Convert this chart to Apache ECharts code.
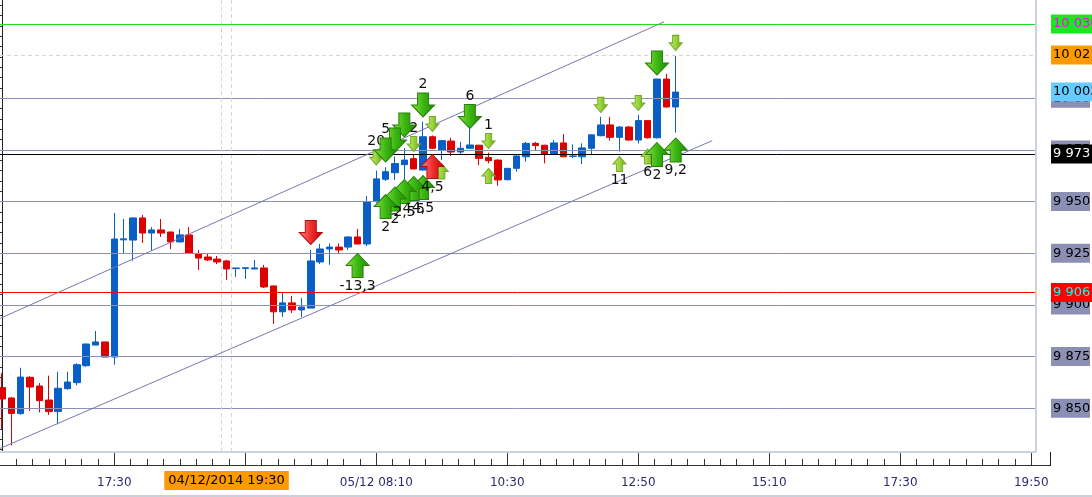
<!DOCTYPE html>
<html>
<head>
<meta charset="utf-8">
<style>
html,body{margin:0;padding:0;background:#fff;}
#chart{width:1092px;height:497px;}
</style>
<script src="https://cdn.jsdelivr.net/npm/echarts@6/dist/echarts.min.js"></script>
</head>
<body>
<div id="chart"></div>
<script>
// 10-minute bars, index 0 = first bar on screen
var openV  = [9860, 9855, 9847.4, 9865, 9860.8, 9854, 9848.4, 9859.5, 9862.4, 9870.6,
              9880.6, 9882.1, 9874.8, 9931.5, 9931.4, 9942.1, 9934.8, 9936.3, 9935.3, 9930.5,
              9933.9, 9924.7, 9923.2, 9922.2, 9921.3, 9917.6, 9917.7, 9917.4, 9917.9, 9909.2,
              9896.7, 9901, 9897.6, 9898.5, 9920.8, 9927.1, 9928, 9928, 9932.9, 9929.5,
              9950, 9960.8, 9964, 9967.9, 9970.8, 9965.3, 9981.4, 9975, 9979.3, 9974,
              9975.8, 9977.3, 9971.4, 9970.1, 9960.6, 9966.1, 9971.7, 9978.2, 9977.3, 9973,
              9978.4, 9971.9, 9971.7, 9975.8, 9981.9, 9987.1, 9981.1, 9986.1, 9979.8, 9989.2,
              9980.9, 10009.3, 9995.8];
var closeV = [9854.5, 9847.5, 9865.1, 9860.3, 9853.7, 9848.4, 9859.7, 9862.7, 9871.1, 9881.1,
              9882.1, 9874.8, 9931.9, 9932, 9942.1, 9934.8, 9936.3, 9934.8, 9930.5, 9933.9,
              9925.1, 9922.7, 9921.8, 9920.8, 9917.4, 9917.9, 9918, 9917.9, 9908.7, 9896.7,
              9901, 9897.6, 9899, 9921.3, 9927.1, 9928, 9926.6, 9932.9, 9929.5, 9950,
              9961, 9964.5, 9968.4, 9970.1, 9965.8, 9981.4, 9975.8, 9979.5, 9974, 9975.8,
              9977.4, 9970.9, 9969.8, 9960.5, 9966.1, 9972.1, 9978.2, 9977.1, 9973, 9978.4,
              9971.7, 9972.1, 9976, 9982.3, 9987.1, 9981.1, 9986.1, 9979.8, 9989.2, 9980.9,
              10009.3, 9995.8, 10003];
var lowV   = [9840, 9832, 9847, 9848.7, 9848, 9846.8, 9842.3, 9859, 9861.1, 9870.1,
              9880.5, 9874.8, 9871.1, 9925.1, 9921.4, 9930, 9926.1, 9932.9, 9927.1, 9930.3,
              9925, 9916.9, 9921.3, 9919.8, 9912.1, 9913.6, 9912.6, 9917.4, 9908.2, 9890.8,
              9894.2, 9896.1, 9894.2, 9898.5, 9919.8, 9919.4, 9925, 9926.6, 9929.5, 9928.5,
              9949.5, 9960, 9960.5, 9960.5, 9965.8, 9965, 9975.5, 9970.1, 9972.1, 9972.6,
              9975.6, 9967.7, 9968.5, 9957.7, 9960.3, 9964.5, 9969.3, 9975, 9968.5, 9972.8,
              9971.5, 9971, 9968.2, 9972.6, 9981.6, 9979.5, 9974.2, 9979.5, 9978.2, 9980.5,
              9980.5, 9995.5, 9983.4];
var highV  = [9867, 9855.5, 9869.6, 9865.5, 9862.2, 9865.8, 9867.7, 9867.7, 9871.8, 9881.3,
              9887.4, 9882.1, 9944.5, 9941.6, 9942.3, 9943.5, 9937.7, 9941.6, 9935.5, 9936.8,
              9937.7, 9926.6, 9924.7, 9923.7, 9921.8, 9918, 9918.1, 9921.8, 9919.4, 9909.4,
              9905.8, 9904.4, 9903.4, 9926.6, 9929.5, 9929.8, 9929.8, 9933.2, 9936.8, 9952.7,
              9965, 9966.6, 9971.8, 9975.8, 9973, 9988.7, 9982, 9979.8, 9980.9, 9978.9,
              9987.1, 9977.5, 9973.7, 9970.5, 9966.3, 9972.7, 9978.9, 9978.9, 9977.5, 9979.8,
              9982.7, 9977.7, 9978.2, 9982.4, 9991, 9991, 9986.5, 9986.6, 9991.9, 9989.5,
              10009.5, 10011.8, 10020.6];

// time axis (bar index -> label)
var timeTickIdx  = [12, 26, 40, 54, 68, 82, 96, 110];
var timeLabelIdx = [12, 24, 40, 54, 68, 82, 96, 110];
var timeLabels   = ['17:30', '04/12/2014 19:30', '05/12 08:10', '10:30', '12:50', '15:10', '17:30', '19:50'];
var cursorIdx = 24;
var cursorPrice = 10021;

// price levels
var gridPrices = [9850, 9875, 9900, 9925, 9950, 9975, 10000];
var quotePrices = [10036, 10021, 10003, 9973, 9906];

// trend channel [barIndex, price]
var channelUpper = [[-0.2, 9893.5], [70.75, 10037]];
var channelLower = [[-0.2, 9830.6], [75.9, 9979.5]];

// signals
var bigDownIdx = [43, 42, 41, 45, 50, 70];
var bigDownPrice = [9987.1, 9979.8, 9975.0, 9996.8, 9991.2, 10017.1];
var bigDownText = ['', '', '5', '2', '6', ''];

var smallDownIdx = [40, 44, 46, 52, 64, 68, 72];
var smallDownPrice = [9971.4, 9977.9, 9987.6, 9979.3, 9996.8, 9997.7, 10026.8];
var smallDownText = ['20', '2', '', '1', '', '', ''];

var smallUpIdx = [47, 52, 66, 69];
var smallUpPrice = [9964.6, 9962.4, 9968.2, 9971.8];
var smallUpText = ['', '', '11', '6'];

var bigUpIdx = [45, 44, 43, 42, 41, 38, 70, 72];
var bigUpPrice = [9956.8, 9956.4, 9954.9, 9951.3, 9947.6, 9919.1, 9972.8, 9975.0];
var bigUpText = ['4,5', '4,5', '2,5', '2', '2', '-13,3', '2', '9,2'];

var redDownIdx = [33];
var redDownPrice = [9935.1];
var redDownText = [''];

var redUpIdx = [46];
var redUpPrice = [9967.0];
var redUpText = ['4,5'];

var X_MIN = -0.2148, X_MAX = 110.4;
var Y_MIN = 9828.85, Y_MAX = 10047.56;

var DOWN_PATH = 'path://M6,0 L17,0 L17,12 L23,12 L11.5,24 L0,12 L6,12 Z';
var UP_PATH = 'path://M11.5,0 L23,12 L17,12 L17,24 L6,24 L6,12 L0,12 Z';

function fmtPrice(v) {
    return String(Math.round(v)).replace(/\B(?=(\d{3})+(?!\d))/g, ' ');
}
function grad(c1, c2, c3) {
    return {type: 'linear', x: 0, y: 0, x2: 1, y2: 0,
        colorStops: [{offset: 0, color: c1}, {offset: 0.5, color: c2}, {offset: 1, color: c3}]};
}
function pts(idx, price) {
    return idx.map(function (x, i) { return [x, price[i]]; });
}

var greenBig = grad('#8fe23c', '#3cb814', '#1a8a04');
var greenSmall = grad('#c8ef6c', '#98d43c', '#6aa81a');
var redBig = grad('#ff8080', '#f03030', '#bf0000');

function arrowSeries(idx, price, text, path, size, fill, border, up, z) {
    return {
        type: 'scatter',
        data: pts(idx, price),
        symbol: path,
        symbolSize: size,
        z: z,
        itemStyle: {color: fill, borderColor: border, borderWidth: 1, opacity: 1},
        label: {
            show: true,
            position: up ? 'bottom' : 'top',
            distance: 1,
            color: '#111',
            fontFamily: 'DejaVu Sans',
            fontSize: 14,
            formatter: function (p) { return text[p.dataIndex]; }
        },
        silent: true
    };
}

var minorX = [];
for (var k = -8; k < 64; k++) {
    var v = 12 + 1.75 * k;
    if (v > X_MIN && v < X_MAX && k % 8 !== 0) minorX.push(v);
}
var minorY = [];
for (var p = 9830; p <= 10045; p += 5) minorY.push(p);

var quoteStyle = {
    10036: 'qg', 10021: 'qo', 10003: 'qb', 9973: 'qk', 9906: 'qr'
};
var quotePad = [3, 12, 3, 2];

var myChart = echarts.init(document.getElementById('chart'));
var option = {
    animation: false,
    backgroundColor: '#fff',
    grid: {left: 0, top: 0, right: 57, bottom: 45, outerBoundsMode: 'none', containLabel: false},
    xAxis: [
        {
            type: 'value', min: X_MIN, max: X_MAX, position: 'bottom', offset: 13,
            axisLine: {show: true, lineStyle: {color: '#333', width: 1}},
            axisTick: {show: true, inside: true, length: 13, customValues: timeTickIdx,
                lineStyle: {color: '#333'}},
            axisLabel: {
                customValues: timeLabelIdx, margin: 6,
                formatter: function (v) {
                    var i = timeLabelIdx.indexOf(v);
                    if (v === cursorIdx) return '{hl|' + timeLabels[i] + '}';
                    return '{n|' + timeLabels[i] + '}';
                },
                rich: {
                    n: {color: '#2b2b70', fontFamily: 'DejaVu Sans', fontSize: 12, padding: [6, 0, 0, 0]},
                    hl: {color: '#000', backgroundColor: '#ff9900', fontFamily: 'DejaVu Sans',
                        fontSize: 13, padding: [3, 4, 3, 4]}
                }
            },
            splitLine: {show: false}
        },
        {
            type: 'value', min: X_MIN, max: X_MAX, position: 'bottom', offset: 13,
            axisLine: {show: false},
            axisTick: {show: true, inside: true, length: 6, customValues: minorX,
                lineStyle: {color: '#333'}},
            axisLabel: {show: false},
            splitLine: {show: false}
        }
    ],
    yAxis: [
        {
            type: 'value', min: Y_MIN, max: Y_MAX, position: 'right', offset: 15, z: 1,
            axisLine: {show: true, lineStyle: {color: '#222', width: 1}},
            axisTick: {show: true, inside: true, length: 15, customValues: gridPrices,
                lineStyle: {color: '#333'}},
            axisLabel: {
                customValues: gridPrices, margin: 1,
                formatter: function (v) { return '{g|' + fmtPrice(v) + '}'; },
                rich: {
                    g: {backgroundColor: '#8a8fb3', color: '#000', fontFamily: 'DejaVu Sans',
                        fontSize: 13, padding: [3, 2, 3, 2], width: 35}
                }
            },
            splitLine: {show: false}
        },
        {
            type: 'value', min: Y_MIN, max: Y_MAX, position: 'right', offset: 15, z: 1,
            axisLine: {show: false},
            axisTick: {show: true, inside: true, length: 7, customValues: minorY,
                lineStyle: {color: '#333'}},
            axisLabel: {show: false},
            splitLine: {show: false}
        },
        {
            type: 'value', min: Y_MIN, max: Y_MAX, position: 'right', offset: 15, z: 6,
            axisLine: {show: false},
            axisTick: {show: false},
            axisLabel: {
                customValues: quotePrices, margin: 1,
                formatter: function (v) { return '{' + quoteStyle[v] + '|' + fmtPrice(v) + '}'; },
                rich: {
                    qg: {backgroundColor: '#1ee61e', color: '#ff00ff', fontFamily: 'DejaVu Sans', fontSize: 13, padding: quotePad},
                    qo: {backgroundColor: '#ff9900', color: '#000', fontFamily: 'DejaVu Sans', fontSize: 13, padding: quotePad},
                    qb: {backgroundColor: '#66ccff', color: '#000', fontFamily: 'DejaVu Sans', fontSize: 13, padding: quotePad},
                    qk: {backgroundColor: '#000', color: '#fff', fontFamily: 'DejaVu Sans', fontSize: 13, padding: quotePad},
                    qr: {backgroundColor: '#ff0000', color: '#00ffff', fontFamily: 'DejaVu Sans', fontSize: 13, padding: quotePad}
                }
            },
            splitLine: {show: false}
        }
    ],
    graphic: [
        {type: 'line', z: 10, shape: {x1: 1036, y1: 0, x2: 1036, y2: 452}, style: {stroke: '#c9d2de', lineWidth: 2}},
        {type: 'line', z: 10, shape: {x1: 0, y1: 452, x2: 1036, y2: 452}, style: {stroke: '#c9d2de', lineWidth: 2}},
        {type: 'line', z: 10, shape: {x1: 0, y1: 496, x2: 1092, y2: 496}, style: {stroke: '#c8d0dc', lineWidth: 2}},
        {type: 'line', z: 10, shape: {x1: 1035, y1: 465.5, x2: 1050.5, y2: 465.5}, style: {stroke: '#333', lineWidth: 1}},
        {type: 'line', z: 10, shape: {x1: 1050.5, y1: 452, x2: 1050.5, y2: 466}, style: {stroke: '#222', lineWidth: 1}}
    ],
    series: [
        {
            // grid, levels, cursor and channel lines
            type: 'line',
            data: [],
            z: 1,
            silent: true,
            markLine: {
                silent: true,
                symbol: 'none',
                label: {show: false},
                animation: false,
                data: gridPrices.map(function (p) {
                    return {yAxis: p, lineStyle: {color: '#8a90b6', width: 1, type: 'solid'}};
                }).concat([
                    {yAxis: cursorPrice, lineStyle: {color: '#d6d6d6', width: 1, type: [4, 3]}},
                    {xAxis: cursorIdx - 0.53, lineStyle: {color: '#d6d6d6', width: 1, type: [4, 3]}},
                    {xAxis: cursorIdx + 0.53, lineStyle: {color: '#d6d6d6', width: 1, type: [4, 3]}},
                    {yAxis: quotePrices[0], lineStyle: {color: '#22dd22', width: 1, type: 'solid'}},
                    {yAxis: quotePrices[3], lineStyle: {color: '#000', width: 1, type: 'solid'}},
                    {yAxis: quotePrices[4], lineStyle: {color: '#ff0000', width: 1, type: 'solid'}},
                    [{coord: channelUpper[0], lineStyle: {color: '#7878ac', width: 1, type: 'solid'}}, {coord: channelUpper[1]}],
                    [{coord: channelLower[0], lineStyle: {color: '#7878ac', width: 1, type: 'solid'}}, {coord: channelLower[1]}]
                ])
            }
        },
        {
            type: 'candlestick',
            z: 3,
            barWidth: 7,
            encode: {x: 0, y: [1, 2, 3, 4]},
            data: openV.map(function (o, i) { return [i, o, closeV[i], lowV[i], highV[i]]; }),
            itemStyle: {
                color: '#0a5fc6', color0: '#dd0000',
                borderColor: '#0a5fc6', borderColor0: '#dd0000', borderWidth: 1
            },
            silent: true
        },
        arrowSeries(redDownIdx, redDownPrice, redDownText, DOWN_PATH, [23, 24], redBig, '#b01010', false, 5),
        arrowSeries(smallDownIdx, smallDownPrice, smallDownText, DOWN_PATH, [13, 15], greenSmall, '#78a82a', false, 6),
        arrowSeries(bigDownIdx, bigDownPrice, bigDownText, DOWN_PATH, [23, 24], greenBig, '#2b7f0a', false, 7),
        arrowSeries(smallUpIdx, smallUpPrice, smallUpText, UP_PATH, [13, 15], greenSmall, '#78a82a', true, 6),
        arrowSeries(bigUpIdx, bigUpPrice, bigUpText, UP_PATH, [23, 24], greenBig, '#2b7f0a', true, 7),
        arrowSeries(redUpIdx, redUpPrice, redUpText, UP_PATH, [23, 24], redBig, '#b01010', true, 8)
    ]
};
myChart.setOption(option);
</script>
</body>
</html>
